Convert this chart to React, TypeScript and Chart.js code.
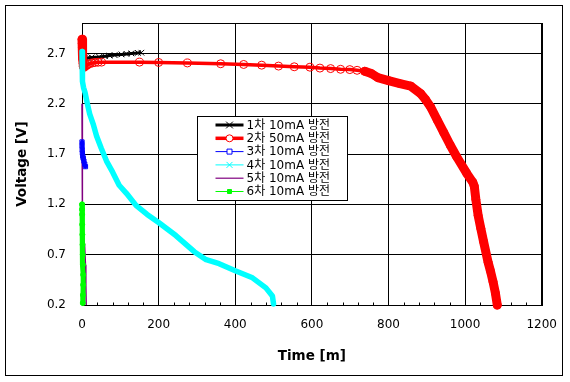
import React, { useEffect, useRef } from "react";
import { Chart, registerables } from "chart.js";

Chart.register(...registerables);

const seriesLabels = ["1차 10mA 방전", "2차 50mA 방전", "3차 10mA 방전", "4차 10mA 방전", "5차 10mA 방전", "6차 10mA 방전"];

const s1Time = [0, 2, 3, 4, 8, 15, 25, 45, 60, 72, 85, 103, 116, 129, 146, 155];
const s1Volt = [2.84, 2.84, 2.75, 2.68, 2.66, 2.655, 2.66, 2.665, 2.672, 2.678, 2.683, 2.69, 2.695, 2.7, 2.705, 2.707];

const s2Time = [0, 0.5, 1, 1.5, 2, 2.5, 3, 3.5, 5, 8, 12, 16, 21, 27, 34, 42, 51, 150, 200, 275, 362, 422, 469, 513, 554, 595, 621, 649, 675, 699, 718, 738, 755, 772, 800, 830, 858, 884, 897, 910, 927, 944, 961, 978, 1004, 1020, 1024, 1028, 1034, 1041, 1048, 1060, 1066, 1073, 1079, 1084];
const s2Volt = [2.84, 2.8, 2.76, 2.72, 2.68, 2.64, 2.6, 2.57, 2.56, 2.57, 2.58, 2.59, 2.6, 2.605, 2.61, 2.612, 2.613, 2.613, 2.61, 2.605, 2.597, 2.59, 2.583, 2.574, 2.567, 2.563, 2.554, 2.549, 2.542, 2.539, 2.532, 2.522, 2.5, 2.46, 2.43, 2.4, 2.375, 2.3, 2.24, 2.167, 2.04, 1.915, 1.79, 1.673, 1.51, 1.42, 1.38, 1.25, 1.09, 0.96, 0.833, 0.625, 0.54, 0.43, 0.32, 0.2];

const s3Time = [0, 0, 0.5, 1, 2, 3, 5, 7, 9];
const s3Volt = [1.82, 1.78, 1.74, 1.71, 1.68, 1.66, 1.63, 1.6, 1.575];

const s4Time = [0, 0.5, 1, 2, 4, 8, 14, 20, 29, 38, 50, 64, 80, 97, 116, 141, 170, 200, 245, 293, 324, 358, 400, 445, 480, 497, 500];
const s4Volt = [2.72, 2.62, 2.5, 2.42, 2.36, 2.31, 2.2, 2.1, 2.0, 1.88, 1.76, 1.63, 1.52, 1.39, 1.31, 1.19, 1.1, 1.02, 0.89, 0.73, 0.65, 0.61, 0.54, 0.47, 0.37, 0.29, 0.21];

const s5Time = [0, 0, 1, 2, 4, 7, 9, 10, 11];
const s5Volt = [2.2, 1.3, 1.25, 1.2, 0.9, 0.78, 0.6, 0.4, 0.2];

const s6Time = [0, 0, 0.3, 0.5, 1, 1.5, 2, 2.5, 3, 3, 2.5, 2];
const s6Volt = [1.2, 1.15, 1.1, 1.0, 0.9, 0.8, 0.7, 0.6, 0.5, 0.4, 0.3, 0.22];

const xTicks = [0, 200, 400, 600, 800, 1000, 1200];
const yTicks = [0.2, 0.7, 1.2, 1.7, 2.2, 2.7];
const xMinorStep = 40;

const colors = ["#000000", "#FF0000", "#0000FF", "#00FFFF", "#800080", "#00FF00"];

const pts = (xs: number[], ys: number[]) => xs.map((x, i) => ({ x, y: ys[i] }));

const FONT = "'DejaVu Sans', 'Noto Sans CJK KR', sans-serif";

function drawMarker(ctx: CanvasRenderingContext2D, style: string, x: number, y: number, r: number, color: string, fill: string | null) {
  ctx.save();
  ctx.strokeStyle = color;
  ctx.lineWidth = 1;
  ctx.beginPath();
  if (style === "crossRot") {
    ctx.moveTo(x - r * 0.75, y - r * 0.75);
    ctx.lineTo(x + r * 0.75, y + r * 0.75);
    ctx.moveTo(x + r * 0.75, y - r * 0.75);
    ctx.lineTo(x - r * 0.75, y + r * 0.75);
    ctx.stroke();
  } else if (style === "circle") {
    ctx.arc(x, y, r, 0, Math.PI * 2);
    if (fill) { ctx.fillStyle = fill; ctx.fill(); }
    ctx.stroke();
  } else if (style === "rect") {
    ctx.rect(x - r, y - r, r * 2, r * 2);
    if (fill) { ctx.fillStyle = fill; ctx.fill(); }
    ctx.stroke();
  }
  ctx.restore();
}

const legendStyles = [
  { lw: 3, marker: "crossRot", r: 4.5, fill: null },
  { lw: 3.5, marker: "circle", r: 3.5, fill: "#FFFFFF" },
  { lw: 1, marker: "rect", r: 2.5, fill: "#FFFFFF" },
  { lw: 1, marker: "crossRot", r: 4, fill: null },
  { lw: 1.2, marker: "none", r: 0, fill: null },
  { lw: 1, marker: "rect", r: 2, fill: "#00FF00" },
];

const framePlugin = {
  id: "frame",
  beforeDatasetsDraw(chart: any) {
    const { ctx, chartArea: a, scales } = chart;
    ctx.save();
    ctx.strokeStyle = "#000";
    ctx.lineWidth = 1;
    const l = Math.round(a.left) + 0.5, t = Math.round(a.top) + 0.5;
    const r = Math.round(a.right) + 0.5, b = Math.round(a.bottom) + 0.5;
    ctx.strokeRect(l, t, r - l, b - t);
    const xs = scales.x;
    ctx.beginPath();
    for (let v = xMinorStep; v < 1200; v += xMinorStep) {
      if (v % 200 === 0) continue;
      const px = Math.round(xs.getPixelForValue(v)) + 0.5;
      ctx.moveTo(px, b);
      ctx.lineTo(px, b - 3);
    }
    ctx.stroke();
    ctx.restore();
  },
  afterDraw(chart: any) {
    const { ctx, chartArea: a } = chart;
    ctx.save();
    ctx.strokeStyle = "#000";
    ctx.lineWidth = 1;
    ctx.strokeRect(5.5, 5.5, 557, 370);
    const bx = Math.round(a.left + 115) + 0.5;
    const by = Math.round(a.top + 93) + 0.5;
    ctx.fillStyle = "#FFFFFF";
    ctx.fillRect(bx, by, 150, 84);
    ctx.strokeRect(bx, by, 150, 84);
    ctx.font = "12px " + FONT;
    ctx.textBaseline = "middle";
    ctx.textAlign = "left";
    seriesLabels.forEach((lab, i) => {
      const st = legendStyles[i];
      const y = by + 8.5 + i * 13.3;
      ctx.strokeStyle = colors[i];
      ctx.lineWidth = st.lw;
      ctx.beginPath();
      ctx.moveTo(bx + 18, y);
      ctx.lineTo(bx + 46, y);
      ctx.stroke();
      if (st.marker !== "none") drawMarker(ctx, st.marker, bx + 32, y, st.r, colors[i], st.fill);
      ctx.fillStyle = "#000";
      ctx.fillText(lab, bx + 49, y + 0.5);
    });
    ctx.restore();
  },
};

export default function App() {
  const ref = useRef<HTMLCanvasElement | null>(null);
  useEffect(() => {
    document.body.style.margin = "0";
    if (!ref.current) return;
    Chart.defaults.font.family = FONT;
    const datasets: any[] = [
      {
        label: seriesLabels[0], data: pts(s1Time, s1Volt), borderColor: colors[0], borderWidth: 3,
        pointStyle: "crossRot", pointRadius: 4, pointBorderWidth: 1, pointBorderColor: colors[0], order: 6,
      },
      {
        label: seriesLabels[1], data: pts(s2Time, s2Volt), borderColor: colors[1], borderWidth: 3.5,
        pointStyle: "circle", pointRadius: 4, pointBorderWidth: 1, pointBorderColor: colors[1],
        pointBackgroundColor: "rgba(255,255,255,0)", borderJoinStyle: "round", borderCapStyle: "round",
        segment: { borderWidth: (c: any) => (c.p0.parsed.x >= 738 || c.p1.parsed.x <= 3.5 ? 9 : 3.5) }, order: 5,
      },
      {
        label: seriesLabels[2], data: pts(s3Time, s3Volt), borderColor: colors[2], borderWidth: 4,
        borderJoinStyle: "round", borderCapStyle: "round",
        pointStyle: "rect", pointRadius: 3, pointBorderWidth: 1, pointBorderColor: colors[2],
        pointBackgroundColor: "rgba(255,255,255,0)", order: 2,
      },
      {
        label: seriesLabels[3], data: pts(s4Time, s4Volt), borderColor: colors[3], borderWidth: 5.5,
        borderJoinStyle: "round", borderCapStyle: "round", pointRadius: 0, order: 4,
      },
      {
        label: seriesLabels[4], data: pts(s5Time, s5Volt), borderColor: colors[4], borderWidth: 1.5,
        pointRadius: 0, order: 3,
      },
      {
        label: seriesLabels[5], data: pts(s6Time, s6Volt), borderColor: colors[5], borderWidth: 5,
        borderJoinStyle: "round", borderCapStyle: "round",
        pointStyle: "circle", pointRadius: 2.5, pointBorderWidth: 1, pointBorderColor: colors[5],
        pointBackgroundColor: colors[5], order: 1,
      },
    ];
    datasets.forEach((d) => { d.clip = 10; d.fill = false; d.tension = 0; });
    const chart = new Chart(ref.current, {
      type: "line",
      data: { datasets },
      options: {
        animation: false,
        responsive: false,
        devicePixelRatio: 1,
        layout: { padding: { left: 0, right: 25, top: 16, bottom: 0 } },
        plugins: { legend: { display: false }, tooltip: { enabled: false } },
        scales: {
          x: {
            type: "linear", min: 0, max: 1200,
            afterBuildTicks: (s: any) => { s.ticks = xTicks.map((v) => ({ value: v })); },
            afterFit: (s: any) => { s.height = 77; },
            grid: { color: "#000", lineWidth: 1, drawTicks: false },
            border: { display: true, color: "#000" },
            ticks: { padding: 13, color: "#000", font: { size: 12 }, maxRotation: 0, autoSkip: false, callback: (v: any) => String(v) },
            title: { display: true, text: "Time [m]", color: "#000", font: { size: 13.5, weight: "bold" }, padding: { top: 0, bottom: 17.9 } },
          },
          y: {
            type: "linear", min: 0.2, max: 3.0,
            afterBuildTicks: (s: any) => { s.ticks = yTicks.map((v) => ({ value: v })); },
            afterFit: (s: any) => { s.width = 82; },
            grid: { color: "#000", lineWidth: 1, drawTicks: false },
            border: { display: true, color: "#000" },
            ticks: { padding: 16, color: "#000", font: { size: 12 }, autoSkip: false, callback: (v: any) => Number(v).toFixed(1) },
            title: { display: true, text: "Voltage [V]", color: "#000", font: { size: 13.5, weight: "bold" }, padding: { top: 13.9, bottom: 0 } },
          },
        },
      } as any,
      plugins: [framePlugin],
    });
    return () => chart.destroy();
  }, []);
  return <canvas ref={ref} width={570} height={382} style={{ display: "block", width: 570, height: 382 }} />;
}
